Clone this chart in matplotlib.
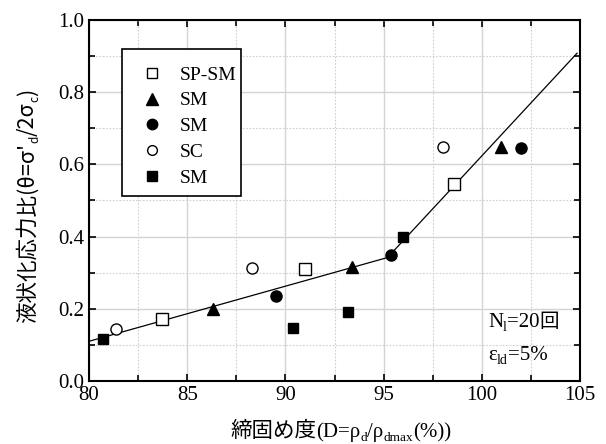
import matplotlib
matplotlib.use("Agg")
import matplotlib.pyplot as plt
from matplotlib.ticker import MultipleLocator, FormatStrFormatter
from matplotlib.lines import Line2D
from matplotlib.patches import Rectangle
from matplotlib.transforms import IdentityTransform

plt.rcParams['font.family'] = ['Liberation Serif', 'Noto Sans CJK JP', 'DejaVu Sans']

# Data
sp_sm_open_sq_x = [83.7, 91.0, 98.6]
sp_sm_open_sq_y = [0.173, 0.311, 0.546]
sm_tri_x = [86.3, 93.4, 101.0]
sm_tri_y = [0.200, 0.315, 0.649]
sm_circ_x = [89.5, 95.4, 102.0]
sm_circ_y = [0.236, 0.349, 0.645]
sc_open_circ_x = [81.4, 88.3, 98.0]
sc_open_circ_y = [0.143, 0.313, 0.649]
sm_sq_x = [80.7, 90.4, 93.2, 96.0]
sm_sq_y = [0.115, 0.146, 0.190, 0.400]
fit_x = [80.0, 95.2, 104.85]
fit_y = [0.110, 0.342, 0.908]
legend_labels = ['SP-SM', 'SM', 'SM', 'SC', 'SM']

W, H = 606, 444
fig = plt.figure(figsize=(W / 100, H / 100), dpi=100)
ax = fig.add_axes([89 / W, 63 / H, 491 / W, 361 / H])

ax.plot(fit_x, fit_y, color='black', lw=0.9, zorder=3)

ms = 8
ax.plot(sp_sm_open_sq_x, sp_sm_open_sq_y, 's', mfc='white', mec='black', mew=1.0, ms=ms, ls='none', zorder=4)
ax.plot(sm_tri_x, sm_tri_y, '^', color='black', ms=ms + 1, ls='none', zorder=4)
ax.plot(sm_circ_x, sm_circ_y, 'o', color='black', ms=ms, ls='none', zorder=4)
ax.plot(sc_open_circ_x, sc_open_circ_y, 'o', mfc='white', mec='black', mew=1.0, ms=ms, ls='none', zorder=4)
ax.plot(sm_sq_x, sm_sq_y, 's', color='black', ms=ms - 0.5, ls='none', zorder=4)

ax.set_xlim(80, 105)
ax.set_ylim(0.0, 1.0)
ax.xaxis.set_major_locator(MultipleLocator(5))
ax.xaxis.set_minor_locator(MultipleLocator(2.5))
ax.yaxis.set_major_locator(MultipleLocator(0.2))
ax.yaxis.set_minor_locator(MultipleLocator(0.1))
ax.yaxis.set_major_formatter(FormatStrFormatter('%.1f'))

ax.grid(which='major', color='#d4d4d4', lw=1.0, ls='-', zorder=0)
ax.grid(which='minor', color='#cfcfcf', lw=0.8, ls=(0, (1.5, 1.5)), zorder=0)
ax.set_axisbelow(True)

ax.tick_params(which='both', direction='in', top=True, right=True, labelsize=15, width=1.2, color='black')
ax.tick_params(which='major', length=5)
ax.tick_params(which='minor', length=4)
for s in ax.spines.values():
    s.set_linewidth(1.5)
    s.set_color('black')

# Legend box + entries
ax.add_patch(Rectangle((33 / 491, 185 / 361), 119 / 491, 147 / 361, transform=ax.transAxes,
                       facecolor='white', edgecolor='black', lw=1.2, zorder=5))
handles = [
    Line2D([], [], marker='s', mfc='white', mec='black', mew=1.0, ms=7, ls='none'),
    Line2D([], [], marker='^', color='black', ms=8, ls='none'),
    Line2D([], [], marker='o', color='black', ms=7.5, ls='none'),
    Line2D([], [], marker='o', mfc='white', mec='black', mew=1.0, ms=7, ls='none'),
    Line2D([], [], marker='s', color='black', ms=6.5, ls='none'),
]
leg = ax.legend(handles, legend_labels, loc='upper left', bbox_to_anchor=(53 / 491, 315 / 361),
                borderaxespad=0, frameon=False, fontsize=14, labelspacing=0.42,
                handlelength=1.0, handletextpad=0.96, borderpad=0)
leg.set_zorder(6)

# Composite texts (mixed fonts with manual subscripts), in pixel coords
SERIF = 'Liberation Serif'
CJK = 'Noto Sans CJK JP'
renderer = fig.canvas.get_renderer()


def run_text(parts, along, base, rotation=0, center=False):
    objs = []
    for s, fam, size, shift in parts:
        t = fig.text(0, 0, s, family=fam, fontsize=size, ha='left', va='baseline',
                     rotation=rotation, rotation_mode='anchor', transform=IdentityTransform())
        ext = t.get_window_extent(renderer)
        L = ext.width if rotation == 0 else ext.height
        objs.append((t, L, shift))
    total = sum(o[1] for o in objs)
    pos = along - total / 2 if center else along
    for t, L, shift in objs:
        if rotation == 0:
            t.set_position((pos, base - shift))
        else:
            t.set_position((base + shift, pos))
        pos += L


# x label
run_text([
    ('締固め度', CJK, 15.5, 0),
    ('(D=ρ', SERIF, 15, 0),
    ('d', SERIF, 9.5, 3.5),
    ('/ρ', SERIF, 15, 0),
    ('dmax', SERIF, 9.5, 3.5),
    ('(%))', SERIF, 15, 0),
], along=341, base=H - 437, center=True)

# y label (sans)
run_text([
    ('液状化応力比(θ=σ\'', CJK, 15.5, 0),
    ('d', CJK, 8.5, 4),
    ('/2σ', CJK, 15.5, 0),
    ('c', CJK, 8.5, 4),
    (')', CJK, 15.5, 0),
], along=H - 206, base=34, rotation=90, center=True)

# annotations
run_text([
    ('N', SERIF, 15, 0),
    ('l', SERIF, 10, 4),
    ('=20', SERIF, 15, 0),
    ('回', CJK, 14, 0),
], along=488, base=H - 327)
run_text([
    ('ε', SERIF, 15, 0),
    ('ld', SERIF, 10, 4),
    ('=5%', SERIF, 15, 0),
], along=488, base=H - 360)

fig.savefig('out.png', dpi=100)
